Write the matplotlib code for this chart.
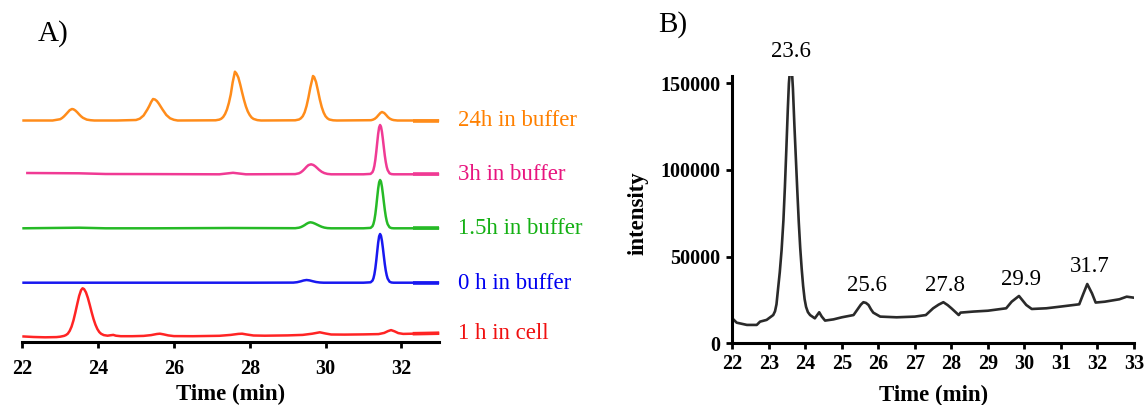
import matplotlib
matplotlib.use("Agg")
import matplotlib.pyplot as plt

plt.rcParams['font.family'] = ['Liberation Serif', 'DejaVu Serif']

# ---------------- Panel A data (signal above each trace's own baseline) ----------------
labels_a = ["24h in buffer", "3h in buffer", "1.5h in buffer", "0 h in buffer", "1 h in cell"]

t_24h = [22.0, 22.8, 23.0, 23.05, 23.1, 23.15, 23.2, 23.25, 23.31, 23.35, 23.4, 23.45, 23.5, 23.55,
         23.6, 23.7, 23.8, 23.9, 24.5, 25.0, 25.1, 25.2, 25.3, 25.35, 25.4, 25.45, 25.5, 25.55, 25.6,
         25.65, 25.7, 25.8, 25.9, 26.0, 26.1, 27.1, 27.2, 27.25, 27.3, 27.35, 27.4, 27.45, 27.5, 27.55,
         27.61, 27.65, 27.7, 27.75, 27.8, 27.85, 27.9, 27.95, 28.0, 28.05, 28.1, 28.2, 28.3, 29.2, 29.3,
         29.35, 29.4, 29.45, 29.5, 29.55, 29.6, 29.67, 29.7, 29.75, 29.8, 29.85, 29.9, 29.95, 30.0,
         30.05, 30.1, 30.2, 30.3, 31.2, 31.25, 31.3, 31.35, 31.4, 31.45, 31.49, 31.55, 31.6, 31.65,
         31.7, 31.75, 31.8, 31.9, 32.3, 33.0]
v_24h = [0, 0, 1.3, 2.5, 4.1, 6.1, 8.2, 10.3, 11.5, 11.2, 10.0, 8.2, 6.1, 4.2,
         2.7, 0.9, 0.3, 0, 0, 0.5, 1.8, 5, 11, 14.5, 18.5, 21.5, 21, 19.5, 17,
         14, 11, 5.5, 2.2, 0.7, 0, 0.2, 0.9, 1.8, 3.5, 6.5, 11, 17.5, 26, 38,
         48.8, 47, 43, 36, 28, 20.5, 14, 9, 5.5, 3, 1.6, 0.4, 0, 0.2, 1,
         2.2, 4.3, 8.2, 14.5, 23, 33, 44.5, 43.5, 38.5, 30, 21, 13.5, 8, 4.3,
         2.2, 1, 0.2, 0, 0.3, 0.8, 1.7, 3.3, 5.5, 7.6, 8.5, 7.5, 5.5, 3.3,
         1.8, 0.9, 0.4, 0, 0, 0]

t_3h = [22.1, 23.5, 24.2, 25.5, 27.2, 27.56, 27.9, 29.2, 29.3, 29.35, 29.4, 29.45, 29.5, 29.55,
        29.62, 29.68, 29.73, 29.78, 29.83, 29.9, 29.97, 30.05, 30.15, 31.0, 31.19, 31.24, 31.265,
        31.29, 31.315, 31.34, 31.365, 31.39, 31.415, 31.44, 31.465, 31.49, 31.515, 31.54, 31.565,
        31.59, 31.615, 31.64, 31.69, 31.74, 31.8, 32.3, 33.0]
v_3h = [1.3, 1.0, 0.3, 0.2, 0, 1.5, 0, 0.2, 1.0, 2, 3.5, 5.4, 7.5, 9.2,
        10, 9.3, 8, 6.3, 4.5, 2.5, 1.2, 0.4, 0, 0, 0.4, 2.2, 4.5,
        8.5, 14.5, 22.6, 31.8, 40.6, 46.9, 49.3, 47.4, 42.3, 34.9, 26.6, 18.7,
        12.3, 7.4, 4.2, 1.0, 0.2, 0, 0, 0]

t_15h = [22.0, 23.5, 24.2, 25.5, 27.5, 29.2, 29.3, 29.35, 29.4, 29.45, 29.5, 29.55, 29.6, 29.66,
         29.72, 29.78, 29.84, 29.9, 29.97, 30.05, 30.15, 31.0, 31.19, 31.24, 31.265, 31.29, 31.315,
         31.34, 31.365, 31.39, 31.415, 31.44, 31.465, 31.49, 31.515, 31.54, 31.565, 31.59, 31.615,
         31.64, 31.69, 31.74, 31.8, 32.3, 33.0]
v_15h = [0, 0.6, 0, 0, 0.3, 0.1, 0.6, 1.2, 2.1, 3.2, 4.5, 5.5, 6, 5.6,
         4.7, 3.6, 2.5, 1.5, 0.7, 0.2, 0, 0, 0.4, 2.1, 4.4, 8.3, 14.2,
         22.1, 31.2, 39.8, 46.0, 48.3, 46.5, 41.4, 34.1, 26.1, 18.4, 12.0, 7.3,
         4.1, 1.0, 0.2, 0, 0, 0]

t_0h = [22.0, 24.0, 26.0, 28.0, 29.15, 29.25, 29.35, 29.42, 29.5, 29.58, 29.66, 29.75, 29.85,
        29.95, 31.0, 31.19, 31.24, 31.265, 31.29, 31.315, 31.34, 31.365, 31.39, 31.415, 31.44,
        31.465, 31.49, 31.515, 31.54, 31.565, 31.59, 31.615, 31.64, 31.69, 31.74, 31.8, 32.3, 33.0]
v_0h = [0, 0, 0, 0, 0.1, 0.5, 1.4, 2.2, 2.7, 2.3, 1.5, 0.7, 0.2,
        0, 0, 0.4, 2.1, 4.4, 8.4, 14.4, 22.3, 31.4, 40.1, 46.4, 48.7,
        46.8, 41.7, 34.4, 26.3, 18.5, 12.1, 7.4, 4.1, 1.0, 0.2, 0, 0, 0]

t_cell = [22.0, 22.3, 22.6, 22.9, 23.0, 23.05, 23.1, 23.15, 23.2, 23.25, 23.3, 23.35, 23.4, 23.45,
          23.5, 23.55, 23.59, 23.63, 23.68, 23.73, 23.78, 23.83, 23.88, 23.93, 23.98, 24.03, 24.08,
          24.15, 24.25, 24.32, 24.4, 24.47, 24.6, 24.9, 25.2, 25.4, 25.55, 25.63, 25.72, 25.85, 26.0,
          26.5, 27.2, 27.5, 27.7, 27.8, 27.92, 28.1, 28.4, 29.0, 29.4, 29.65, 29.85, 30.0, 30.15,
          30.5, 31.0, 31.4, 31.55, 31.65, 31.73, 31.82, 31.92, 32.05, 32.3, 32.6, 33.0]
v_cell = [0.3, -0.3, -0.6, -0.4, 0, 0.4, 0.8, 1.6, 3.0, 5.8, 10.1, 16.3, 24.2, 32.7,
          40.8, 46.5, 48.4, 47.6, 44.3, 38.8, 31.8, 24.4, 17.6, 12, 7.7, 4.7, 2.9,
          1.6, 1.0, 1.4, 1.8, 1.0, 0.5, 0.5, 0.8, 1.6, 2.7, 3.0, 2.4, 1.3, 0.6,
          0.5, 0.9, 1.8, 2.8, 3.0, 2.2, 1.2, 1.0, 1.3, 1.8, 3.0, 4.4, 3.2, 2.2,
          2.1, 2.3, 2.6, 3.8, 5.6, 6.6, 5.4, 3.6, 2.8, 3.0, 3.2, 3.5]

series_a = [(t_24h, v_24h), (t_3h, v_3h), (t_15h, v_15h), (t_0h, v_0h), (t_cell, v_cell)]

# ---------------- Panel B data ----------------
t_b = [22.0, 22.12, 22.4, 22.67, 22.76, 22.94, 23.12, 23.17, 23.21, 23.25, 23.3, 23.35, 23.4, 23.44,
       23.48, 23.52, 23.55, 23.58, 23.63, 23.66, 23.7, 23.74, 23.78, 23.82, 23.86, 23.9, 23.94, 23.98,
       24.02, 24.07, 24.13, 24.26, 24.38, 24.45, 24.54, 24.77, 25.0, 25.32, 25.45, 25.52, 25.59,
       25.66, 25.73, 25.8, 25.86, 26.05, 26.5, 27.0, 27.3, 27.5, 27.65, 27.78, 27.9, 28.0, 28.2, 28.25,
       28.6, 29.0, 29.5, 29.65, 29.85, 30.05, 30.2, 30.6, 31.0, 31.5, 31.6, 31.72, 31.85, 31.95, 32.2,
       32.6, 32.8, 33.0]
i_b = [14400, 11900, 10600, 10600, 12500, 13500, 16300, 18500, 22500, 30800, 41000, 53800, 71000, 90000,
       112000, 135000, 150000, 158000, 158000, 147000, 126000, 107000, 88000, 70000, 55000, 43000, 33000, 25500,
       21000, 18000, 16300, 14400, 17900, 15400, 13100, 13800, 15000, 16300, 20200, 22300, 23700,
       23300, 22100, 19500, 17700, 15400, 15000, 15400, 16300, 20200, 22300, 23700, 22000, 20200, 16300, 17700,
       18300, 18800, 20200, 24000, 27300, 22100, 19800, 20200, 21200, 22500, 27900, 34200, 28800, 23500, 24000,
       25400, 26900, 26300]

peak_times = [23.6, 25.6, 27.8, 29.9, 31.7]
peak_label_y = [168200, 33600, 33600, 36900, 44200]
peak_label_x = [23.6, 25.68, 27.83, 29.9, 31.78]

# ---------------- styling / layout ----------------
W, H = 1146, 405
fig = plt.figure(figsize=(W / 100, H / 100), dpi=100)

line_cols = ["#FF8C1A", "#F03A94", "#26BA26", "#1818F0", "#FF2424"]
text_cols = ["#FF8000", "#E8157F", "#14B014", "#0000F0", "#F01010"]
offsets = [221.2, 167.4, 113.4, 59.0, 5.0]

axA = fig.add_axes([22.3 / W, 1 - 341.7 / H, 416.9 / W, 281.7 / H])
axA.set_xlim(22, 33)
axA.set_ylim(0, 281.7)
for (t, v), c, tc, off, lab in zip(series_a, line_cols, text_cols, offsets, labels_a):
    y = [vv + off for vv in v]
    axA.plot(t, y, color=c, lw=1.8, solid_capstyle='butt', solid_joinstyle='round', clip_on=False)
    k = t.index(32.3)
    axA.plot(t[k:], y[k:], color=c, lw=2.6, solid_capstyle='butt', clip_on=False)
    axA.text(33.5, y[-1] - 0.5, lab, color=tc, fontsize=16.5, va='center', ha='left')

for s in ['top', 'right', 'left']:
    axA.spines[s].set_visible(False)
axA.spines['bottom'].set_linewidth(2.2)
axA.set_yticks([])
axA.set_xticks([22, 24, 26, 28, 30, 32])
axA.tick_params(axis='x', direction='out', length=4, width=2, pad=8.5, labelsize=14.5)
for lbl in axA.get_xticklabels():
    lbl.set_fontweight('bold')
axA.set_xlabel("Time (min)", fontsize=16.5, fontweight='bold')
axA.xaxis.set_label_coords(0.5006, -0.148)

fig.text(53 / W, 1 - 34 / H, "A)", fontsize=21, ha='center', va='center')

# Panel B
axB = fig.add_axes([732.3 / W, 1 - 343.3 / H, 401.7 / W, 267.3 / H])
axB.set_xlim(22, 33)
axB.set_ylim(0, 154200)
axB.plot(t_b, i_b, color="#2a2a2a", lw=1.9, solid_joinstyle='round')
for s in ['top', 'right']:
    axB.spines[s].set_visible(False)
for s in ['left', 'bottom']:
    axB.spines[s].set_linewidth(2.2)
axB.set_xticks(range(22, 34))
axB.set_yticks([0, 50000, 100000, 150000])
axB.tick_params(axis='x', direction='out', length=4.5, width=2, pad=3.5, labelsize=14.5)
axB.tick_params(axis='y', direction='out', length=4.5, width=2, pad=4, labelsize=14.5)
for lbl in axB.get_xticklabels() + axB.get_yticklabels():
    lbl.set_fontweight('bold')
axB.set_xlabel("Time (min)", fontsize=16.5, fontweight='bold')
axB.xaxis.set_label_coords(0.5, -0.155)
axB.set_ylabel("intensity", fontsize=16.5, fontweight='bold')
axB.yaxis.set_label_coords(-0.208, 0.4875)
for x, yv, pt in zip(peak_label_x, peak_label_y, peak_times):
    axB.text(x, yv, f"{pt:.1f}", fontsize=16.5, ha='center', va='center', clip_on=False)

fig.text(673 / W, 1 - 25 / H, "B)", fontsize=21, ha='center', va='center')

fig.savefig("out.png", dpi=100)
